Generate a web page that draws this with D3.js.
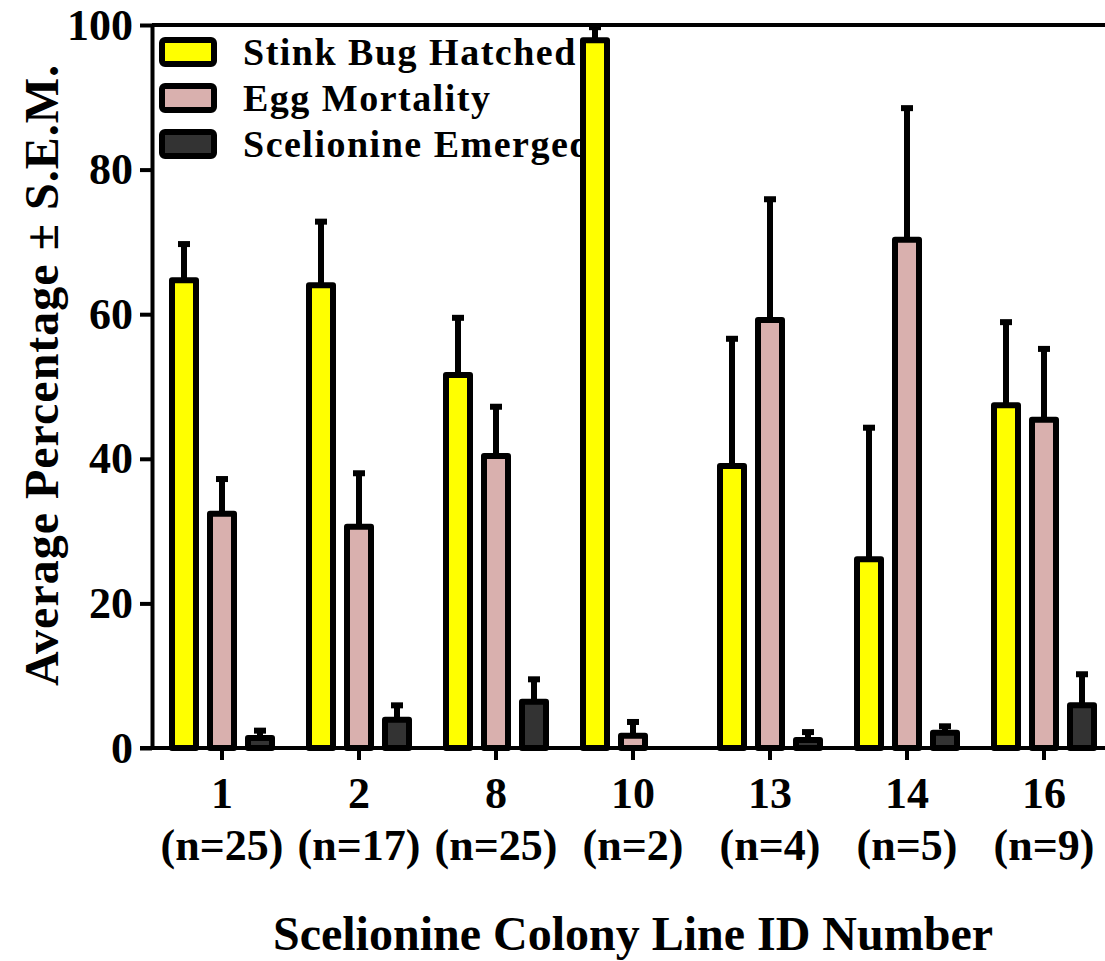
<!DOCTYPE html>
<html>
<head>
<meta charset="utf-8">
<script src="https://cdn.jsdelivr.net/npm/d3@7"></script>
<style>
  body { margin: 0; background: #fff; }
</style>
</head>
<body>
<main></main>
<script>
// data
const groups = ["1", "2", "8", "10", "13", "14", "16"]
const groupN = ["(n=25)", "(n=17)", "(n=25)", "(n=2)", "(n=4)", "(n=5)", "(n=9)"]
const series = ["Stink Bug Hatched", "Egg Mortality", "Scelionine Emerged"]
const colors = ["#ffff00", "#d9b0ae", "#333333"]

const hatched      = [64.7, 64.0, 51.6, 97.9, 39.0, 26.1, 47.4]
const hatchedErr   = [69.7, 72.8, 59.5, 99.7, 56.6, 44.3, 58.9]
const mortality    = [32.4, 30.6, 40.4, 1.7, 59.2, 70.3, 45.4]
const mortalityErr = [37.2, 38.0, 47.2, 3.6, 75.9, 88.5, 55.2]
const emerged      = [1.4, 3.9, 6.4, 0, 1.1, 2.1, 5.9]
const emergedErr   = [2.4, 5.9, 9.5, null, 2.2, 3.0, 10.2]

const yTicks = [0, 20, 40, 60, 80, 100]

const width = 1105, height = 961
const margin = { top: 25, left: 152, bottom: 213 }

const svg = d3.select("main")
    .append("svg")
    .attr("width", width)
    .attr("height", height)

const y = d3.scaleLinear()
    .domain([0, 100])
    .range([height - margin.bottom, margin.top])

const x = d3.scaleBand()
    .domain(groups)
    .range([153.5, 153.5 + 137 * groups.length])
    .padding(0)

const xInner = d3.scalePoint()
    .domain(series)
    .range([-38, 38])

const barW = 24

const font = (sel, size) => sel
    .attr("font-family", "Liberation Serif")
    .style("font-family", '"Liberation Serif"')
    .style("font-weight", "bold")
    .style("font-size", size + "px")
    .attr("fill", "#000")

// legend (drawn first, bars sit on top of it)
let legend = svg.append("g").attr("id", "legend")
series.forEach((s, i) => {
    let row = legend.append("g").attr("transform", `translate(0, ${52 + i * 46})`)
    row.append("rect")
        .attr("x", 162).attr("y", -12)
        .attr("width", 52).attr("height", 24)
        .attr("rx", 3)
        .attr("fill", colors[i])
        .attr("stroke", "#000")
        .attr("stroke-width", 6)
    row.append("text")
        .attr("x", 243).attr("y", 13)
        .call(font, 38)
        .style("letter-spacing", "1.5px")
        .text(s)
})

// y axis
let yAxis = svg.append("g")
    .attr("transform", `translate(${margin.left}, 0)`)
    .call(d3.axisLeft(y).tickValues(yTicks).tickSize(12).tickSizeOuter(0).tickPadding(7))
yAxis.attr("font-family", null)
yAxis.select(".domain").attr("stroke-width", 4)
yAxis.selectAll(".tick line").attr("stroke-width", 4)
yAxis.selectAll(".tick text").call(font, 44)

// top frame line
svg.append("line")
    .attr("x1", margin.left).attr("x2", width)
    .attr("y1", y(100)).attr("y2", y(100))
    .attr("stroke", "#000").attr("stroke-width", 4)

// x axis
let xAxis = svg.append("g")
    .attr("transform", `translate(0, ${y(0)})`)
    .call(d3.axisBottom(x).tickSize(12).tickSizeOuter(0).tickFormat(""))
xAxis.attr("font-family", null)
xAxis.select(".domain").attr("d", `M${margin.left - 12},0H${width}`).attr("stroke-width", 4)
xAxis.selectAll(".tick line").attr("stroke-width", 4)
xAxis.selectAll(".tick text").remove()
xAxis.selectAll(".tick").append("text")
    .attr("text-anchor", "middle")
    .call(font, 44)
    .each(function(d, i) {
        let t = d3.select(this)
        t.append("tspan").attr("x", 0).attr("y", 60).text(d)
        t.append("tspan").attr("x", 0).attr("y", 112).text(groupN[i])
    })

// bars
const table = series.map((s, si) => ({
    name: s,
    color: colors[si],
    values: [hatched, mortality, emerged][si].map((v, gi) => ({
        group: groups[gi],
        value: v,
        err: [hatchedErr, mortalityErr, emergedErr][si][gi]
    }))
}))

let barsG = svg.append("g")
table.forEach(s => {
    let g = barsG.append("g")
    let pts = s.values.filter(d => d.value > 0)
    let cx = d => x(d.group) + x.bandwidth() / 2 + xInner(s.name)
    // error bars under the bar outline
    g.selectAll("line.err")
        .data(pts.filter(d => d.err != null))
        .enter()
        .append("line")
        .attr("class", "err")
        .attr("x1", cx)
        .attr("x2", cx)
        .attr("y1", d => y(d.value))
        .attr("y2", d => y(d.err))
        .attr("stroke", "#000")
        .attr("stroke-width", 6)
    g.selectAll("rect.cap")
        .data(pts.filter(d => d.err != null))
        .enter()
        .append("rect")
        .attr("class", "cap")
        .attr("x", d => cx(d) - 6)
        .attr("y", d => y(d.err) - 3)
        .attr("width", 12)
        .attr("height", 6)
        .attr("fill", "#000")
    g.selectAll("rect.bar")
        .data(pts)
        .enter()
        .append("rect")
        .attr("class", "bar")
        .attr("x", d => cx(d) - barW / 2)
        .attr("y", d => y(d.value))
        .attr("width", barW)
        .attr("height", d => y(0) - y(d.value))
        .attr("fill", s.color)
        .attr("stroke", "#000")
        .attr("stroke-width", 6)
        .attr("stroke-linejoin", "round")
})

// redraw baseline over bar bottoms
svg.append("line")
    .attr("x1", margin.left - 12).attr("x2", width)
    .attr("y1", y(0)).attr("y2", y(0))
    .attr("stroke", "#000").attr("stroke-width", 4)

// axis titles
svg.append("text")
    .attr("x", 633).attr("y", 950)
    .attr("text-anchor", "middle")
    .call(font, 48)
    .text("Scelionine Colony Line ID Number")

svg.append("text")
    .attr("transform", "translate(58, 375) rotate(-90)")
    .attr("text-anchor", "middle")
    .call(font, 48)
    .style("letter-spacing", "1px")
    .text("Average Percentage ± S.E.M.")
</script>
</body>
</html>
